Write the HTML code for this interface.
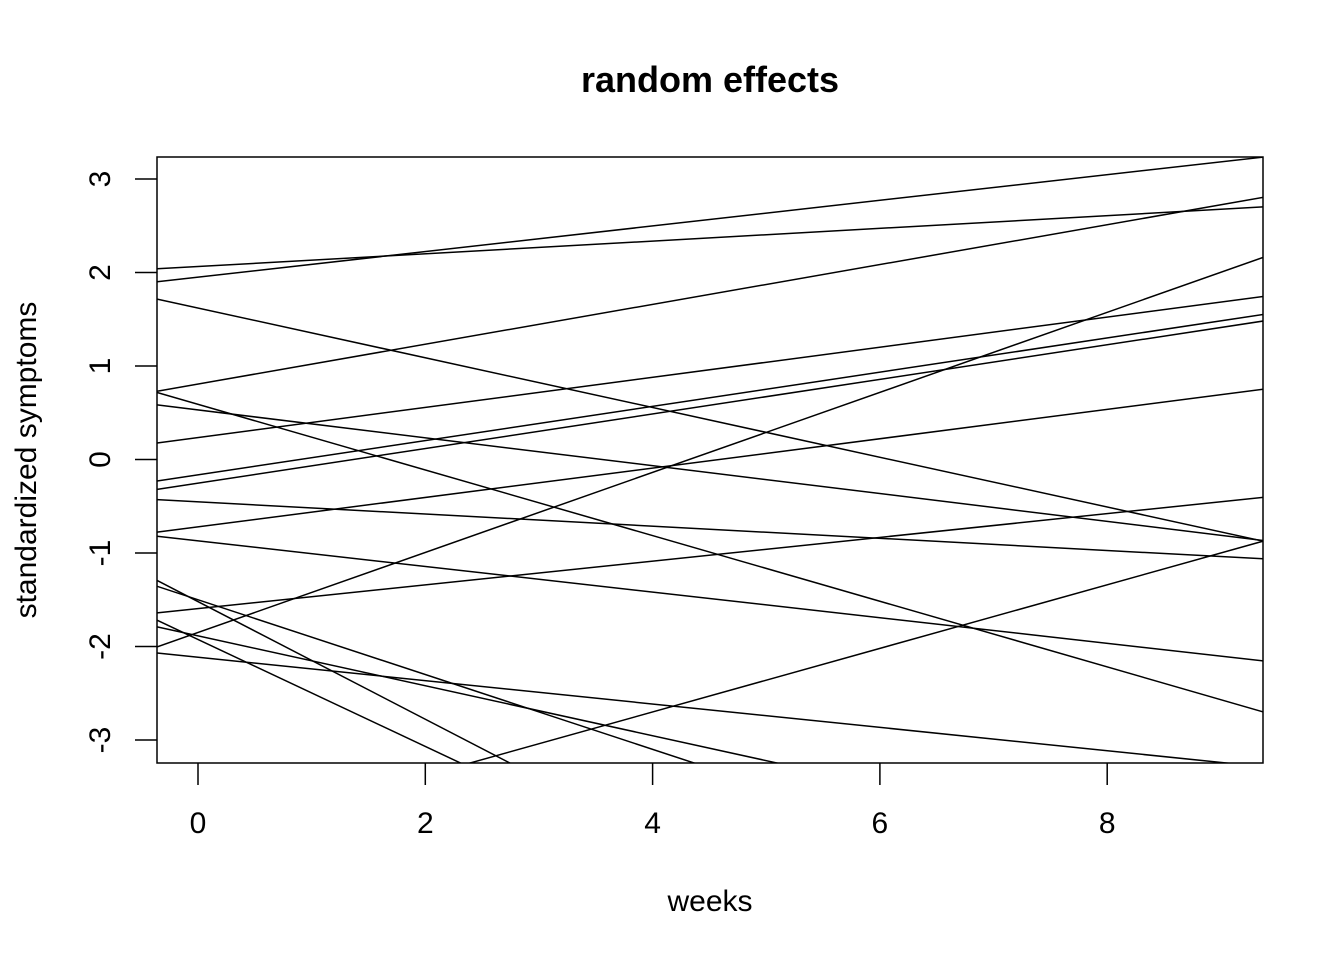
<!DOCTYPE html>
<html><head><meta charset="utf-8"><style>html,body{margin:0;background:#fff;overflow:hidden;width:1344px;height:960px}svg{display:block}text{font-family:"Liberation Sans",Arial,sans-serif;fill:#000}</style></head>
<body>
<svg id="c" width="1344" height="960">
<defs><clipPath id="clip"><rect x="157" y="157" width="1106" height="606"/></clipPath></defs>
<text x="710" y="92" text-anchor="middle" font-size="36" font-weight="bold">random effects</text>
<text x="710" y="911" text-anchor="middle" font-size="30">weeks</text>
<text transform="translate(36,460) rotate(-90)" text-anchor="middle" font-size="30">standardized symptoms</text>
<g id="lines" clip-path="url(#clip)"></g>
<rect x="157" y="157" width="1106" height="606" fill="none" stroke="#000" stroke-width="1.5"/>
<g id="xa"></g>
<g id="ya"></g>
</svg>
<script>
const intercepts=[2.064,1.95,0.807,1.62,0.59,0.53,0.235,-0.164,-0.253,-0.453,-0.72,-0.87,-1.595,-1.85,-1.52,-1.50,-1.925,-1.886,-2.115,-4.06];
const slopes=[0.068,0.137,0.213,-0.266,-0.351,-0.149,0.161,0.183,0.185,-0.065,0.157,-0.137,0.127,0.428,-0.629,-0.40,-0.572,-0.267,-0.125,0.34];
const xTicks=[0,2,4,6,8];
const yTicks=[-3,-2,-1,0,1,2,3];
const NS='http://www.w3.org/2000/svg';
const xmin=-0.36,xmax=9.375;
const sx=v=>198+v*113.65;
const sy=v=>459.5-v*93.5;
const g=document.getElementById('lines');
intercepts.forEach((a,i)=>{
 const l=document.createElementNS(NS,'line');
 l.setAttribute('x1',sx(xmin));l.setAttribute('y1',sy(a+slopes[i]*xmin));
 l.setAttribute('x2',sx(xmax));l.setAttribute('y2',sy(a+slopes[i]*xmax));
 l.setAttribute('stroke','#000');l.setAttribute('stroke-width','1.5');
 
 
 g.appendChild(l);
});
const xa=document.getElementById('xa');
xTicks.forEach(t=>{
 const l=document.createElementNS(NS,'line');
 l.setAttribute('x1',sx(t));l.setAttribute('x2',sx(t));l.setAttribute('y1',763);l.setAttribute('y2',785);
 l.setAttribute('stroke','#000');l.setAttribute('stroke-width','1.5');
 
 
 xa.appendChild(l);
 const tx=document.createElementNS(NS,'text');
 tx.setAttribute('x',sx(t));tx.setAttribute('y',833);tx.setAttribute('text-anchor','middle');tx.setAttribute('font-size','30');
 tx.textContent=t;
 
 
 xa.appendChild(tx);
});
const ya=document.getElementById('ya');
yTicks.forEach(t=>{
 const l=document.createElementNS(NS,'line');
 l.setAttribute('x1',135);l.setAttribute('x2',157);l.setAttribute('y1',sy(t));l.setAttribute('y2',sy(t));
 l.setAttribute('stroke','#000');l.setAttribute('stroke-width','1.5');
 
 
 ya.appendChild(l);
 const tx=document.createElementNS(NS,'text');
 tx.setAttribute('transform','translate(110,'+sy(t)+') rotate(-90)');tx.setAttribute('text-anchor','middle');tx.setAttribute('font-size','30');
 tx.textContent=t;
 
 
 ya.appendChild(tx);
});
</script>
</body></html>
